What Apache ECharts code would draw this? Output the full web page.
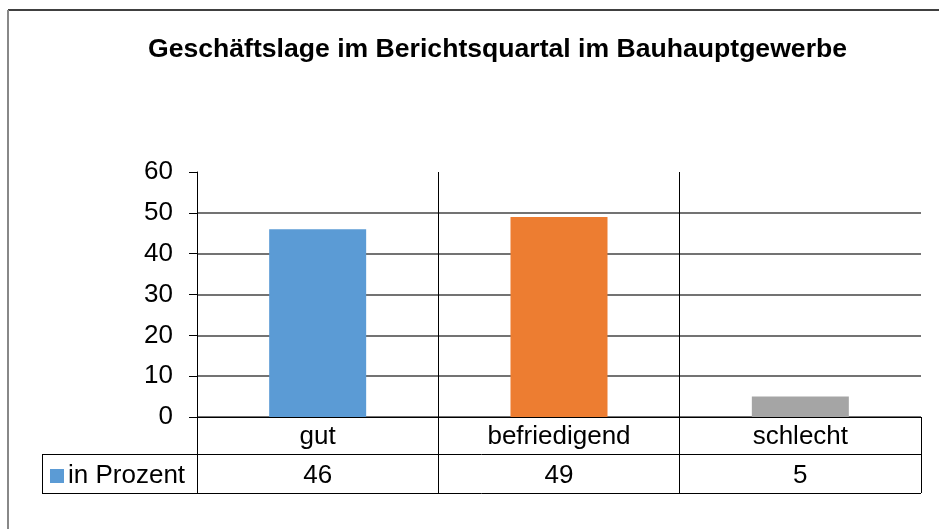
<!DOCTYPE html>
<html>
<head>
<meta charset="utf-8">
<script src="https://cdn.jsdelivr.net/npm/echarts@6/dist/echarts.min.js"></script>
<style>
  html, body { margin: 0; padding: 0; background: #fff; }
  #chart { width: 939px; height: 529px; }
</style>
</head>
<body>
<div id="chart"></div>
<script>
const categories = ['gut', 'befriedigend', 'schlecht']
const values = [46, 49, 5]
const seriesName = 'in Prozent'
const yTicks = [0, 10, 20, 30, 40, 50, 60]

const barColors = ['#5b9bd5', '#ed7d31', '#a5a5a5']
const font = "'Liberation Sans', Arial, sans-serif"
const none = 'rgba(0,0,0,0)'

const chart = echarts.init(document.getElementById('chart'))

chart.setOption({
    animation: false,
    backgroundColor: '#fff',
    title: {
        text: 'Geschäftslage im Berichtsquartal im Bauhauptgewerbe',
        left: 148,
        top: 36,
        padding: 0,
        textStyle: {
            fontFamily: font,
            fontSize: 26.6,
            fontWeight: 'bold',
            color: '#000'
        }
    },
    legend: {
        data: [seriesName],
        left: 50,
        top: 463,
        padding: 0,
        icon: 'rect',
        itemWidth: 14,
        itemHeight: 14,
        itemGap: 0,
        textStyle: {
            fontFamily: font,
            fontSize: 26,
            color: '#000',
            padding: [0, 0, 0, -1]
        }
    },
    grid: {
        left: 197,
        right: 18,
        top: 172,
        height: 245,
        containLabel: false
    },
    xAxis: [{
        type: 'category',
        data: categories,
        axisLine: { lineStyle: { color: '#000', width: 1 } },
        axisTick: { show: true, length: 76, lineStyle: { color: '#000' } },
        // no vertical line on the right edge of the plot
        splitLine: { show: true, lineStyle: { color: ['#000', '#000', '#000', none], width: 1 } },
        axisLabel: {
            margin: 7,
            fontFamily: font,
            fontSize: 26,
            color: '#000'
        }
    }, {
        // value row of the data table
        type: 'category',
        position: 'bottom',
        offset: 39,
        data: categories,
        axisLine: { show: false },
        axisTick: { show: false },
        axisLabel: {
            margin: 7,
            fontFamily: font,
            fontSize: 26,
            color: '#000',
            formatter: (v, i) => String(values[i])
        }
    }],
    yAxis: {
        type: 'value',
        min: yTicks[0],
        max: yTicks[yTicks.length - 1],
        interval: 10,
        axisLine: { show: true, lineStyle: { color: '#000' } },
        axisTick: { show: true, length: 8, lineStyle: { color: '#000' } },
        // top gridline (60) is not drawn in the original
        splitLine: { lineStyle: { color: ['#444', '#444', '#444', '#444', '#444', '#444', none], width: 1.5 } },
        axisLabel: {
            margin: 24,
            fontFamily: font,
            fontSize: 26,
            color: '#000'
        }
    },
    series: [{
        name: seriesName,
        type: 'bar',
        barWidth: 97,
        itemStyle: { color: barColors[0] },
        data: values.map((v, i) => ({ value: v, itemStyle: { color: barColors[i] } }))
    }],
    graphic: [
        // outer chart frame
        { type: 'line', shape: { x1: 8, y1: 10, x2: 939, y2: 10 }, style: { stroke: '#000', lineWidth: 1.5 } },
        { type: 'line', shape: { x1: 8, y1: 10, x2: 8, y2: 529 }, style: { stroke: '#888', lineWidth: 2 } },
        // data table borders
        { type: 'line', shape: { x1: 42, y1: 454.5, x2: 921, y2: 454.5 }, style: { stroke: '#000', lineWidth: 1 } },
        { type: 'line', shape: { x1: 42, y1: 493.5, x2: 921, y2: 493.5 }, style: { stroke: '#000', lineWidth: 1 } },
        { type: 'line', shape: { x1: 42.5, y1: 454, x2: 42.5, y2: 494 }, style: { stroke: '#000', lineWidth: 1 } }
    ]
})
</script>
</body>
</html>
